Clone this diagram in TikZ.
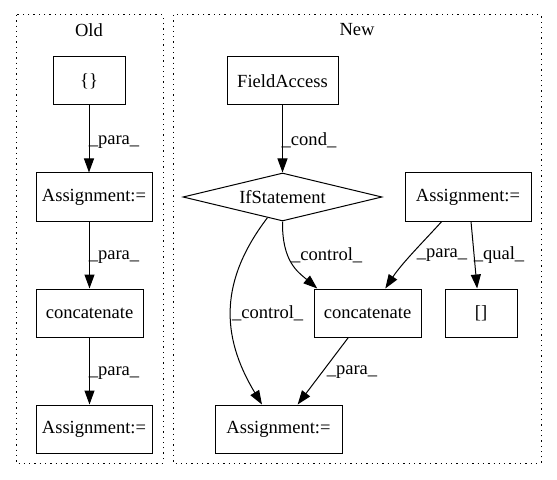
\documentclass[tikz,border=0pt]{standalone}
\usepackage{fontspec}
\setmainfont{Liberation Serif}
\usetikzlibrary{arrows.meta,shapes.geometric}
\begin{document}
\begin{tikzpicture}[x=1bp,y=1bp,
  every node/.style={font=\fontsize{18.6}{22}\selectfont},
  box/.style={draw,line width=1bp,rectangle,inner sep=0pt,minimum height=48bp},
  dia/.style={draw,line width=1bp,diamond,aspect=4,inner sep=0pt,minimum width=199bp,minimum height=48bp},
  cluster/.style={draw,line width=1bp,dash pattern=on 1.3bp off 4bp},
  edge/.style={draw,line width=1bp,-{Triangle[length=14bp,width=10bp]}},
  lab/.style={inner sep=0pt}
]
\useasboundingbox (0,0) rectangle (557,-480);
% clusters
\draw[cluster] (16,-15) rectangle (163,-463);
\draw[cluster] (173,-15) rectangle (541,-463);
\node[lab] (told) at (89,-30) {Old};
\node[lab] (tnew) at (357,-30) {New};
% Old nodes
\node[box,minimum width=72bp] (curly) at (89,-81) {\{\}};
\node[box,minimum width=116bp] (asgA) at (94,-197) {Assignment:=};
\node[box,minimum width=107bp] (catA) at (89.5,-313) {concatenate};
\node[box,minimum width=116bp] (asgB) at (94,-429) {Assignment:=};
% New nodes
\node[box,minimum width=111bp] (fa) at (282.5,-81) {FieldAccess};
\node[dia] (ifs) at (282.5,-197) {IfStatement};
\node[box,minimum width=126bp] (asgR) at (468,-197) {Assignment:=};
\node[box,minimum width=107bp] (catN) at (367.5,-313) {concatenate};
\node[box,minimum width=72bp] (idx) at (481,-313) {[]};
\node[box,minimum width=127bp] (asgN) at (278.5,-429) {Assignment:=};
% Old edges
\draw[edge] (curly.south) -- (curly.south |- asgA.north);
\draw[edge] (catA.north |- asgA.south) -- (catA.north);
\draw[edge] (catA.south) -- (catA.south |- asgB.north);
\node[lab] (l1) at (114,-142) {\_para\_};
\node[lab] (l2) at (114,-257) {\_para\_};
\node[lab] (l3) at (114,-373) {\_para\_};
% New edges
\draw[edge] (fa.south) -- (ifs.north);
\node[lab] (l4) at (309,-140) {\_cond\_};
\draw[edge] (ifs.234) .. controls (220,-280) and (220,-335) .. (asgN.124);
\node[lab,anchor=west] (l5) at (232,-313) {\_control\_};
\draw[edge] (ifs.south) .. controls (282,-262) and (298,-272) .. (catN.154);
\node[lab,anchor=west] (l6) at (291,-255) {\_control\_};
\draw[edge] (asgR.223) .. controls (425,-240) and (402,-263) .. (catN.54);
\node[lab] (l7) at (442,-255) {\_para\_};
\draw[edge] (asgR.277) -- (idx.99);
\node[lab] (l8) at (499,-255) {\_qual\_};
\draw[edge] (catN.232) -- (asgN.52);
\node[lab] (l9) at (352,-372) {\_para\_};
\end{tikzpicture}
\end{document}
